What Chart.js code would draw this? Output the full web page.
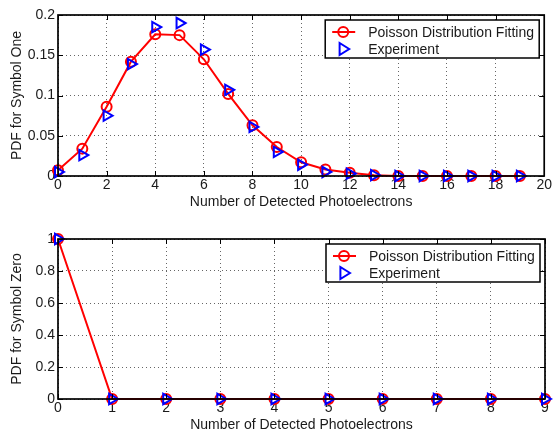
<!DOCTYPE html>
<html>
<head>
<meta charset="utf-8">
<script src="https://cdn.jsdelivr.net/npm/chart.js@4/dist/chart.umd.min.js"></script>
<style>
  body { margin: 0; background: #fff; }
  #wrap { width: 553px; height: 434px; position: relative; }
  canvas { display: block; }
</style>
</head>
<body>
<div id="wrap">
  <canvas id="chartOne" width="553" height="217"></canvas>
  <canvas id="chartZero" width="553" height="217"></canvas>
</div>
<script>
// data
const countsOne = [0, 1, 2, 3, 4, 5, 6, 7, 8, 9, 10, 11, 12, 13, 14, 15, 16, 17, 18, 19]
const fitOne = [0.007, 0.034, 0.086, 0.142, 0.176, 0.175, 0.145, 0.102, 0.063, 0.036, 0.017, 0.008, 0.004, 0.001, 0, 0, 0, 0, 0, 0]
const expOne = [0.005, 0.026, 0.075, 0.139, 0.185, 0.190, 0.157, 0.107, 0.061, 0.030, 0.014, 0.005, 0.003, 0.001, 0, 0, 0, 0, 0, 0]

const countsZero = [0, 1, 2, 3, 4, 5, 6, 7, 8, 9]
const fitZero = [1, 0, 0, 0, 0, 0, 0, 0, 0, 0]
const expZero = [1, 0, 0, 0, 0, 0, 0, 0, 0, 0]

const legendLabels = ['Poisson Distribution Fitting', 'Experiment']
const xTitle = 'Number of Detected Photoelectrons'

const FONT = "'Liberation Sans', Arial, sans-serif"
const TXT = '#1a1a1a'
const SIZE = 14

const toPts = (xs, ys) => xs.map((x, i) => ({ x: x, y: ys[i] }))
const fmt = v => String(+Number(v).toFixed(3))

function drawMarker(ctx, style, x, y, r, color) {
  ctx.save()
  ctx.strokeStyle = color
  ctx.lineWidth = 2
  ctx.beginPath()
  if (style === 'circle') {
    ctx.arc(x, y, r, 0, Math.PI * 2)
  } else {
    ctx.moveTo(x + r, y)
    ctx.lineTo(x - r * 0.6, y - r)
    ctx.lineTo(x - r * 0.6, y + r)
    ctx.closePath()
  }
  ctx.stroke()
  ctx.restore()
}

// MATLAB-like frame, inward ticks and boxed legend
const matlabBox = {
  id: 'matlabBox',
  afterDraw(chart) {
    const ctx = chart.ctx
    const a = chart.chartArea
    const xs = chart.scales.x
    const ys = chart.scales.y
    ctx.save()
    ctx.strokeStyle = '#000'
    ctx.lineWidth = 1
    ctx.beginPath()
    xs.ticks.forEach(t => {
      const px = Math.round(xs.getPixelForValue(t.value)) + 0.5
      ctx.moveTo(px, a.bottom); ctx.lineTo(px, a.bottom - 5)
      ctx.moveTo(px, a.top); ctx.lineTo(px, a.top + 5)
    })
    ys.ticks.forEach(t => {
      const py = Math.round(ys.getPixelForValue(t.value)) + 0.5
      ctx.moveTo(a.left, py); ctx.lineTo(a.left + 5, py)
      ctx.moveTo(a.right, py); ctx.lineTo(a.right - 5, py)
    })
    ctx.stroke()
    ctx.lineWidth = 1.7
    ctx.strokeRect(a.left, a.top, a.right - a.left, a.bottom - a.top)

    // legend
    const w = 214, h = 38
    const lx = a.right - 5 - w, ly = a.top + 5
    ctx.fillStyle = '#fff'
    ctx.fillRect(lx, ly, w, h)
    ctx.lineWidth = 1.5
    ctx.strokeRect(lx, ly, w, h)
    ctx.font = SIZE + 'px ' + FONT
    ctx.textBaseline = 'middle'
    chart.data.datasets.forEach((ds, i) => {
      const cy = ly + 12 + i * 17
      if (ds.showLine !== false) {
        ctx.strokeStyle = ds.borderColor
        ctx.lineWidth = 2
        ctx.beginPath()
        ctx.moveTo(lx + 7, cy); ctx.lineTo(lx + 30, cy)
        ctx.stroke()
      }
      drawMarker(ctx, ds.pointStyle, lx + 18, cy, ds.pointStyle === 'circle' ? 5 : 6, ds.pointBorderColor)
      ctx.fillStyle = TXT
      ctx.fillText(ds.label, lx + 43, cy + 1)
    })
    ctx.restore()
  }
}

function makeChart(id, xs, fit, exp, xMax, xStep, yMax, yStep, yTitle, padTop, xHeight, titlePadBottom) {
  return new Chart(document.getElementById(id), {
    type: 'line',
    data: {
      datasets: [
        {
          label: legendLabels[0],
          data: toPts(xs, fit),
          borderColor: '#ff0000',
          borderWidth: 2,
          pointStyle: 'circle',
          pointRadius: 5,
          pointBorderWidth: 2,
          pointBorderColor: '#ff0000',
          pointBackgroundColor: 'rgba(0,0,0,0)',
          tension: 0,
          clip: false,
          order: 1
        },
        {
          label: legendLabels[1],
          data: toPts(xs, exp),
          showLine: false,
          pointStyle: 'triangle',
          pointRotation: 90,
          pointRadius: 6,
          pointBorderWidth: 2,
          borderColor: '#0000ff',
          pointBorderColor: '#0000ff',
          pointBackgroundColor: 'rgba(0,0,0,0)',
          clip: false,
          order: 0
        }
      ]
    },
    options: {
      responsive: false,
      animation: false,
      devicePixelRatio: 1,
      layout: { padding: { top: padTop, right: 7, left: 0, bottom: 0 } },
      plugins: { legend: { display: false }, tooltip: { enabled: false } },
      scales: {
        x: {
          type: 'linear',
          min: 0, max: xMax,
          afterFit: s => { s.height = xHeight },
          ticks: { stepSize: xStep, color: TXT, padding: 1, callback: fmt, font: { family: FONT, size: SIZE } },
          grid: { drawTicks: false, color: '#666' },
          border: { display: false, dash: [1, 3] },
          title: { display: true, text: xTitle, color: TXT, padding: { top: 0, bottom: titlePadBottom }, font: { family: FONT, size: SIZE } }
        },
        y: {
          min: 0, max: yMax,
          afterFit: s => { s.width = 58 },
          ticks: { stepSize: yStep, color: TXT, padding: 3, callback: fmt, font: { family: FONT, size: SIZE } },
          grid: { drawTicks: false, color: '#666' },
          border: { display: false, dash: [1, 3] },
          title: { display: true, text: yTitle, color: TXT, padding: { top: 9, bottom: 0 }, font: { family: FONT, size: SIZE } }
        }
      }
    },
    plugins: [matlabBox]
  })
}

makeChart('chartOne', countsOne, fitOne, expOne, 20, 2, 0.2, 0.05, 'PDF for Symbol One', 15, 41, 6)
makeChart('chartZero', countsZero, fitZero, expZero, 9, 1, 1, 0.2, 'PDF for Symbol Zero', 22, 35, 0)
</script>
</body>
</html>
